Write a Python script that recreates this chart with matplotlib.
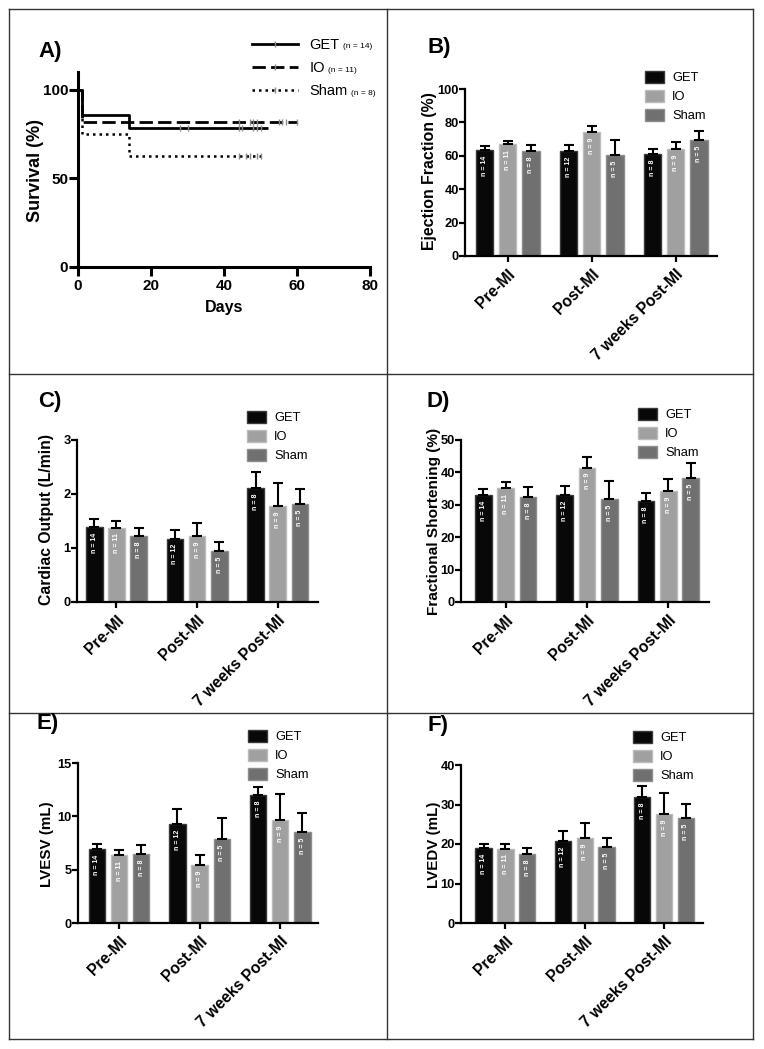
import matplotlib
matplotlib.use('Agg')
import matplotlib.pyplot as plt
import numpy as np
from matplotlib.lines import Line2D
from matplotlib.patches import Patch

plt.rcParams['font.family'] = ['Liberation Sans', 'DejaVu Sans']

# ---------------- data ----------------
groups = ['Pre-MI', 'Post-MI', '7 weeks Post-MI']
series = ['GET', 'IO', 'Sham']
n_counts = [[14, 12, 8], [11, 9, 9], [8, 5, 5]]

# Panel A: Kaplan-Meier survival
get_times = [0, 1, 14, 52]
get_surv = [100, 85.7, 78.6, 78.6]
io_times = [0, 1, 60]
io_surv = [100, 81.8, 81.8]
sham_times = [0, 1, 14, 50]
sham_surv = [100, 75.0, 62.5, 62.5]
get_censor = [28, 30, 44, 45, 48, 49, 50]
io_censor = [44, 47, 48, 49, 55, 56, 57, 60]
sham_censor = [44, 46, 47, 49, 50]
surv_n = [14, 11, 8]

# Panel B: Ejection fraction (%)  rows: GET, IO, Sham
ef_mean = [[63.4, 63.0, 61.0], [67.0, 74.0, 63.8], [62.8, 60.4, 69.4]]
ef_sem = [[2.6, 3.6, 3.0], [2.0, 3.8, 4.6], [3.8, 8.8, 5.4]]
# Panel C: Cardiac output (L/min)
co_mean = [[1.38, 1.175, 2.115], [1.37, 1.22, 1.78], [1.22, 0.94, 1.81]]
co_sem = [[0.15, 0.165, 0.295], [0.13, 0.24, 0.43], [0.15, 0.17, 0.28]]
# Panel D: Fractional shortening (%)
fs_mean = [[33.0, 33.0, 31.3], [35.1, 41.5, 34.2], [32.5, 31.8, 38.4]]
fs_sem = [[1.8, 2.8, 2.2], [1.8, 3.3, 3.7], [3.0, 5.7, 4.4]]
# Panel E: LVESV (mL)
esv_mean = [[6.9, 9.28, 11.97], [6.34, 5.44, 9.69], [6.47, 7.875, 8.56]]
esv_sem = [[0.54, 1.38, 0.75], [0.5, 0.94, 2.37], [0.83, 2.0, 1.75]]
# Panel F: LVEDV (mL)
edv_mean = [[18.95, 20.8, 31.8], [18.8, 21.5, 27.6], [17.5, 19.3, 26.5]]
edv_sem = [[1.15, 2.4, 3.0], [1.3, 3.7, 5.2], [1.5, 2.3, 3.6]]

# ---------------- style ----------------
W, H = 764, 1049
fig = plt.figure(figsize=(W / 100, H / 100), dpi=100)

fills = ['#080808', '#a0a0a0', '#707070']
edges = ['#3a3a3a', '#bcbcbc', '#8e8e8e']
offsets = [-0.275, 0.0, 0.275]
bar_w = 0.205


def rect(l, r, b, t):
    return [l / W, 1 - b / H, (r - l) / W, (b - t) / H]


def fx(px):
    return px / W


def fy(py):
    return 1 - py / H


# panel borders
for x in [9, 387, 753]:
    fig.add_artist(Line2D([fx(x), fx(x)], [fy(9), fy(1039)], color='#333333', lw=1.0))
for y in [9, 374, 713, 1039]:
    fig.add_artist(Line2D([fx(9), fx(753)], [fy(y), fy(y)], color='#333333', lw=1.0))

# panel letters
for lab, px, py in [('A)', 38, 52), ('B)', 427, 48), ('C)', 38, 402),
                    ('D)', 426, 401), ('E)', 36, 724), ('F)', 427, 725)]:
    fig.text(fx(px), fy(py), lab, fontsize=16, fontweight='bold', ha='left', va='center')

# ---------------- Panel A ----------------
axA = fig.add_axes(rect(78, 370, 267, 72))
lw_s = 2.0
axA.step(get_times, get_surv, where='post', color='black', lw=lw_s, solid_capstyle='butt')
axA.step(io_times, io_surv, where='post', color='black', lw=lw_s, ls=(0, (4.8, 1.9)))
axA.step(sham_times, sham_surv, where='post', color='black', lw=1.8, ls=(0, (1.0, 1.6)))


def surv_at(t, times, surv):
    idx = np.searchsorted(times, t, side='right') - 1
    return surv[max(idx, 0)]


for cens, tt, ss in [(get_censor, get_times, get_surv), (io_censor, io_times, io_surv),
                     (sham_censor, sham_times, sham_surv)]:
    yv = [surv_at(c, tt, ss) for c in cens]
    axA.plot(cens, yv, ls='none', marker='|', ms=4.5, mew=1.0, color='#8a8a8a')

axA.set_xlim(0, 80)
axA.set_ylim(0, 110)
axA.set_xticks([0, 20, 40, 60, 80])
axA.set_yticks([0, 50, 100])
for s in ['top', 'right']:
    axA.spines[s].set_visible(False)
for s in ['left', 'bottom']:
    axA.spines[s].set_linewidth(2.2)
axA.tick_params(axis='y', direction='out', length=6.5, width=2.2, labelsize=11, pad=0.5)
axA.tick_params(axis='x', direction='out', length=6.5, width=2.2, labelsize=11, pad=2)
for t in axA.get_xticklabels() + axA.get_yticklabels():
    t.set_fontweight('bold')
axA.set_xlabel('Days', fontsize=11.5, fontweight='bold', labelpad=5)
fig.text(fx(35), fy(171), 'Survival (%)', rotation=90, fontsize=13, fontweight='bold',
         ha='center', va='center')

handlesA = [
    Line2D([], [], color='black', lw=lw_s, marker='|', ms=4, mec='#8a8a8a', mew=1),
    Line2D([], [], color='black', lw=lw_s, ls=(0, (4.8, 1.9)), marker='|', ms=4, mec='#8a8a8a', mew=1),
    Line2D([], [], color='black', lw=1.8, ls=(0, (1.0, 1.6)), marker='|', ms=4, mec='#8a8a8a', mew=1),
]
legA = axA.legend(handlesA, series, loc='upper left', bbox_to_anchor=(fx(252), fy(38)),
                  bbox_transform=fig.transFigure, frameon=False, fontsize=10.5,
                  handlelength=3.15, handletextpad=0.8, labelspacing=0.62,
                  borderpad=0, borderaxespad=0, numpoints=1)


# ---------------- bar panels ----------------
def bar_panel(box, xlim, means, sems, ylim, yticks, ylabel, ylab_pos, ylab_fs, leg_pos):
    ax = fig.add_axes(rect(*box))
    x = np.arange(len(groups))
    for i in range(3):
        pos = x + offsets[i]
        m = np.array(means[i])
        ax.bar(pos, m, width=bar_w, color=fills[i], edgecolor=edges[i], linewidth=1.0, zorder=2)
        ax.errorbar(pos, m, yerr=[np.zeros(3), sems[i]], fmt='none', ecolor='black',
                    elinewidth=1.5, capsize=3.6, capthick=1.5, zorder=3)
        for xx, mm, nn in zip(pos, m, n_counts[i]):
            ax.annotate(f'n = {nn}', xy=(xx, mm), xytext=(0, -4), textcoords='offset points',
                        rotation=90, ha='center', va='top', color='white', fontsize=5,
                        fontweight='bold', zorder=4)
    ax.set_xlim(*xlim)
    ax.set_ylim(*ylim)
    ax.set_yticks(yticks)
    ax.set_xticks(x)
    ax.set_xticklabels(groups, rotation=45, ha='right', rotation_mode='anchor',
                       fontsize=11.3, fontweight='bold')
    for s in ['top', 'right']:
        ax.spines[s].set_visible(False)
    for s in ['left', 'bottom']:
        ax.spines[s].set_linewidth(1.6)
    ax.tick_params(axis='y', direction='out', length=4.0, width=1.6, labelsize=9.3, pad=0.5)
    ax.tick_params(axis='x', direction='out', length=4.5, width=1.6, pad=3)
    for t in ax.get_yticklabels():
        t.set_fontweight('bold')
    fig.text(fx(ylab_pos[0]), fy(ylab_pos[1]), ylabel, rotation=90, fontsize=ylab_fs,
             fontweight='bold', ha='center', va='center')
    handles = [Patch(facecolor=fills[i], edgecolor=edges[i], linewidth=1.0) for i in range(3)]
    ax.legend(handles, series, loc='upper left', bbox_to_anchor=(fx(leg_pos[0]), fy(leg_pos[1] - 7)),
              bbox_transform=fig.transFigure, frameon=False, fontsize=9.3,
              handlelength=1.5, handleheight=1.0, handletextpad=0.6, labelspacing=0.45,
              borderpad=0, borderaxespad=0)
    return ax


bar_panel((465, 717, 256, 89), (-0.51, 2.49), ef_mean, ef_sem, (0, 100), [0, 20, 40, 60, 80, 100],
          'Ejection Fraction (%)', (430, 171), 11.4, (645, 78))
bar_panel((77, 318, 602, 440), (-0.49, 2.5), co_mean, co_sem, (0, 3), [0, 1, 2, 3],
          'Cardiac Output (L/min)', (47, 520), 11.3, (247, 418))
bar_panel((461, 709, 602, 440), (-0.55, 2.5), fs_mean, fs_sem, (0, 50), [0, 10, 20, 30, 40, 50],
          'Fractional Shortening (%)', (434, 521), 11.1, (638, 415))
bar_panel((78, 318, 923, 763), (-0.51, 2.47), esv_mean, esv_sem, (0, 15), [0, 5, 10, 15],
          'LVESV (mL)', (47, 844), 10.9, (248, 737))
bar_panel((461, 703, 923, 765), (-0.56, 2.49), edv_mean, edv_sem, (0, 40), [0, 10, 20, 30, 40],
          'LVEDV (mL)', (434, 845), 10.9, (633, 738))

# small "(n = ..)" after Panel A legend labels
fig.canvas.draw()
for txt, n in zip(legA.get_texts(), surv_n):
    bb = txt.get_window_extent()
    fig.text((bb.x1 + 3) / W, (bb.y0 + 1.5) / H, f'(n = {n})', fontsize=6,
             ha='left', va='bottom')

fig.savefig('out.png', dpi=100, facecolor='white')
